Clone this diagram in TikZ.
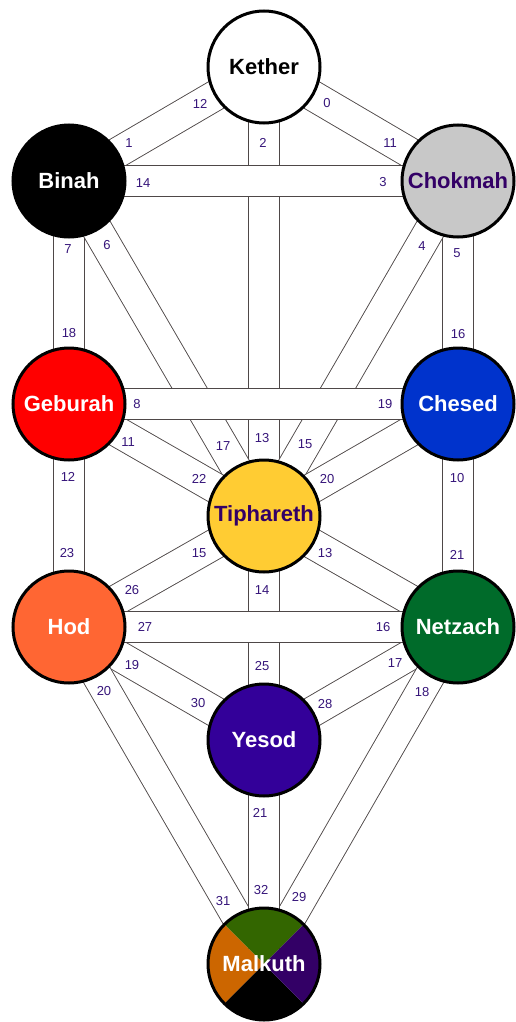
\documentclass[tikz,border=0pt]{standalone}
\usepackage{fontspec}
\setmainfont{Liberation Sans}
\usetikzlibrary{backgrounds}

\definecolor{numpurple}{HTML}{36157A}
\definecolor{edgegray}{HTML}{4E4848}
\definecolor{chokgray}{HTML}{C8C8C8}
\definecolor{gebred}{HTML}{FF0000}
\definecolor{chesblue}{HTML}{0033CC}
\definecolor{tiphgold}{HTML}{FFCC33}
\definecolor{hodorange}{HTML}{FF6633}
\definecolor{netzgreen}{HTML}{006B2A}
\definecolor{yesindigo}{HTML}{330099}
\definecolor{malkgreen}{HTML}{336600}
\definecolor{malkrust}{HTML}{CC6600}
\definecolor{malkplum}{HTML}{330066}

\begin{document}
\begin{tikzpicture}[x=1pt,y=-1pt,
  sephira/.style={circle,draw=black,line width=3pt,minimum size=112pt,inner sep=0pt,font=\fontsize{22}{22}\selectfont\bfseries},
  band/.style={draw=edgegray,line width=0.9pt,double=white,double distance=29.5pt},
  pathnum/.style={font=\fontsize{13}{13}\selectfont,text=numpurple,inner sep=0pt}]
\useasboundingbox (0,0) rectangle (515,1022);

% the ten sephiroth
\node[sephira,fill=white,text=black] (kether) at (264,67) {Kether};
\node[sephira,fill=black,text=white] (binah) at (69,181) {Binah};
\node[sephira,fill=chokgray,text=malkplum] (chokmah) at (458,181) {Chokmah};
\node[sephira,fill=gebred,text=white] (geburah) at (69,404) {Geburah};
\node[sephira,fill=chesblue,text=white] (chesed) at (458,404) {Chesed};
\node[sephira,fill=tiphgold,text=malkplum] (tiphareth) at (264,516) {Tiphareth};
\node[sephira,fill=hodorange,text=white] (hod) at (69,627) {Hod};
\node[sephira,fill=netzgreen,text=white] (netzach) at (458,627) {Netzach};
\node[sephira,fill=yesindigo,text=white] (yesod) at (264,740) {Yesod};
\node[sephira,text=white] (malkuth) at (264,964) {Malkuth};

% paths, horizontal ones last so they lie on top
\begin{scope}[on background layer]
\foreach \a/\b in {kether/binah,kether/chokmah,kether/tiphareth,binah/geburah,binah/tiphareth,
  chokmah/chesed,chokmah/tiphareth,geburah/tiphareth,chesed/tiphareth,geburah/hod,chesed/netzach,
  tiphareth/hod,tiphareth/netzach,tiphareth/yesod,hod/yesod,netzach/yesod,hod/malkuth,
  netzach/malkuth,yesod/malkuth,binah/chokmah,geburah/chesed,hod/netzach}
  \draw[band] (\a.center) -- (\b.center);
% quartered malkuth
\begin{scope}
\clip (malkuth.center) circle[radius=56];
\fill[malkgreen] (malkuth.center) -- ++(-80,-80) -- ++(160,0) -- cycle;
\fill[malkrust] (malkuth.center) -- ++(-80,-80) -- ++(0,160) -- cycle;
\fill[black] (malkuth.center) -- ++(-80,80) -- ++(160,0) -- cycle;
\fill[malkplum] (malkuth.center) -- ++(80,-80) -- ++(0,160) -- cycle;
\end{scope}
\end{scope}

% path numbers
\foreach \t/\x/\y [count=\i] in {12/200/104,0/327/103,1/129/143,2/263/143,11/390/143,14/143/183,
  3/383/182,7/68/249,6/107/245,4/422/246,5/457/253,18/69/333,16/458/334,8/137/404,19/385/404,
  11/128/442,17/223/446,13/262/438,15/305/444,22/199/479,20/327/479,12/68/477,10/457/478,
  23/67/553,15/199/553,13/325/553,21/457/555,26/132/590,14/262/590,27/145/627,16/383/627,
  19/132/665,25/262/666,17/395/663,20/104/691,30/198/703,28/325/704,18/422/692,21/260/813,
  32/261/890,31/223/901,29/299/897}
  \node[pathnum] (num\i) at (\x,\y) {\t};
\end{tikzpicture}
\end{document}
